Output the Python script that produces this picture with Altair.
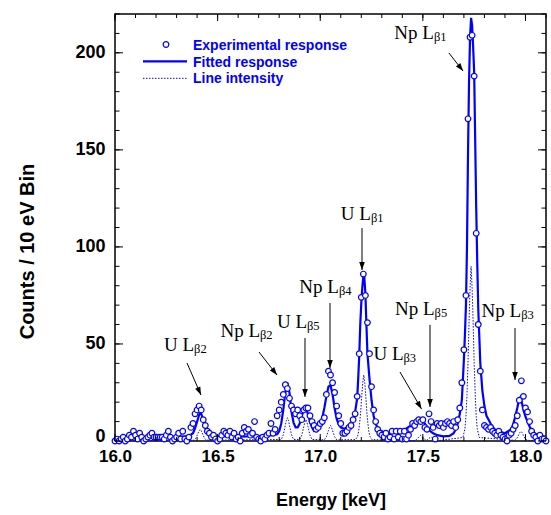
import altair as alt
import pandas as pd

# ---------------- data ----------------
# experimental counts, 10 eV bins from 16.00 to 18.10 keV
counts = [
    0, 1, 0, 1, 2, 0, 1, 3, 2, 5,          # 16.00
    3, 1, 4, 2, 0, 1, 2, 3, 4, 2,          # 16.10
    2, 2, 2, 2, 1, 3, 5, 2, 0, 1,          # 16.20
    2, 4, 1, 5, 1, 0, 2, 7, 9, 14,         # 16.30
    16, 18, 16, 11, 8, 5, 4, 2, 3, 1,      # 16.40
    0, 1, 3, 5, 4, 3, 5, 2, 4, 1,          # 16.50
    2, 0, 4, 7, 5, 6, 3, 4, 10, 2,         # 16.60
    1, 0, 2, 1, 3, 4, 9, 4, 6, 13,         # 16.70
    16, 20, 24, 29, 27, 22, 18, 16, 14, 16,  # 16.80
    13, 11, 16, 17, 17, 13, 10, 8, 6, 7,   # 16.90
    9, 10, 12, 24, 36, 34, 30, 25, 18, 13,  # 17.00
    9, 4, 4, 5, 7, 8, 11, 14, 23, 45,      # 17.10
    74, 86, 75, 61, 45, 28, 16, 10, 6, 4,  # 17.20
    3, 2, 4, 1, 2, 5, 1, 5, 2, 5,          # 17.30
    1, 5, 1, 3, 6, 9, 8, 10, 11, 10,       # 17.40
    11, 7, 6, 14, 10, 7, 1, 9, 8, 9,       # 17.50
    7, 9, 10, 9, 8, 10, 7, 11, 17, 30,     # 17.60
    47, 75, 166, 208, 209, 188, 107, 60, 36, 16,  # 17.70
    8, 7, 6, 7, 5, 4, 3, 5, 3, 2,          # 17.80
    1, 0, 3, 4, 6, 8, 13, 21, 31, 23,      # 17.90
    17, 15, 10, 5, 3, 2, 0, 3, 1, 1,       # 18.00
    0,                                     # 18.10
]
bin_energy = [round(16.0 + 0.01 * i, 2) for i in range(len(counts))]

# fitted response
fit_energy = [
    16.00, 16.10, 16.20, 16.30, 16.36, 16.38, 16.39, 16.40, 16.41, 16.415,
    16.42, 16.43, 16.44, 16.45, 16.46, 16.48, 16.60, 16.70, 16.76, 16.79,
    16.80, 16.81, 16.82, 16.83, 16.84, 16.85, 16.86, 16.87, 16.88, 16.89,
    16.90, 16.91, 16.92, 16.93, 16.94, 16.95, 16.96, 16.97, 16.98, 16.99,
    17.00, 17.01, 17.02, 17.03, 17.04, 17.05, 17.06, 17.07, 17.08, 17.09,
    17.10, 17.11, 17.12, 17.13, 17.14, 17.15, 17.16, 17.17, 17.18, 17.185,
    17.19, 17.195, 17.20, 17.205, 17.21, 17.213, 17.22, 17.225, 17.23, 17.24,
    17.25, 17.26, 17.27, 17.28, 17.30, 17.33, 17.38, 17.42, 17.45, 17.47,
    17.49, 17.50, 17.51, 17.52, 17.53, 17.55, 17.57, 17.60, 17.63, 17.65,
    17.66, 17.67, 17.68, 17.69, 17.70, 17.705, 17.71, 17.715, 17.72, 17.725,
    17.73, 17.735, 17.74, 17.745, 17.75, 17.755, 17.76, 17.765, 17.77, 17.78,
    17.79, 17.80, 17.81, 17.83, 17.85, 17.87, 17.90, 17.93, 17.94, 17.95,
    17.96, 17.97, 17.975, 17.98, 17.99, 18.00, 18.01, 18.02, 18.03, 18.04,
    18.06, 18.10,
]
fit_counts = [
    1.5, 1.8, 2.0, 2.2, 2.5, 4, 6.5, 10, 13.5, 14.8,
    14, 11, 7.5, 5, 3.2, 2.5, 2.2, 2.5, 3, 3.5,
    5, 9, 16, 25, 30, 25, 15, 9.5, 7, 7,
    9, 13, 16, 16.8, 14, 10, 7, 5.2, 5.5, 7,
    9, 12, 17, 23, 28, 28.8, 24, 17, 11.5, 8.5,
    7, 6.5, 6.4, 7, 8, 9.5, 11.5, 15, 22, 32,
    44, 60, 71, 79, 85, 87, 76, 60, 45, 32,
    21, 13, 9, 6.5, 5, 4, 4.5, 6.5, 8.5, 10,
    10.8, 10.5, 9, 7, 5.5, 4, 3, 2.4, 2.6, 4,
    6, 9, 14, 21, 42, 55, 70, 100, 148, 185,
    208, 218, 214, 203, 190, 155, 120, 92, 68, 40,
    26, 18, 13, 9, 6, 5, 4, 6, 8.5, 12.5,
    17, 22, 22.5, 21, 16, 12.5, 10, 7.5, 5.5, 4.3,
    3, 2.2,
]

# line intensity (dotted)
line_energy = [
    16.00,
    16.385, 16.395, 16.405, 16.41, 16.415, 16.42, 16.425, 16.435, 16.445,
    16.81, 16.82, 16.83, 16.835, 16.84, 16.845, 16.85, 16.86, 16.87,
    16.90, 16.91, 16.92, 16.925, 16.93, 16.935, 16.94, 16.95, 16.96,
    17.02, 17.03, 17.04, 17.045, 17.05, 17.055, 17.06, 17.07, 17.08,
    17.172, 17.182, 17.187, 17.192, 17.197, 17.202, 17.207, 17.212, 17.217,
    17.222, 17.227, 17.232, 17.237, 17.242, 17.252,
    17.46, 17.47, 17.48, 17.485, 17.49, 17.495, 17.50, 17.51,
    17.52, 17.53, 17.535, 17.54, 17.545, 17.55, 17.56, 17.57,
    17.695, 17.705, 17.71, 17.715, 17.72, 17.725, 17.73, 17.735, 17.74,
    17.745, 17.75, 17.755, 17.76, 17.765, 17.775,
    17.948, 17.958, 17.968, 17.973, 17.978, 17.983, 17.988, 17.998, 18.008,
    18.10,
]
line_counts = [
    0,
    0.4, 1.6, 4.1, 5.3, 6, 5.3, 4.1, 1.6, 0.4,
    0.8, 3.2, 8.2, 10.6, 12, 10.6, 8.2, 3.2, 0.8,
    0.8, 3, 7.5, 9.7, 11, 9.7, 7.5, 3, 0.8,
    0.6, 2.2, 5.4, 7, 8, 7, 5.4, 2.2, 0.6,
    0.7, 2.4, 4.8, 9.2, 15, 23, 30, 34, 30,
    23, 15, 9.2, 4.8, 2.4, 0.7,
    0.2, 0.8, 2, 2.6, 3, 2.6, 2, 0.8,
    0.4, 1.4, 1.8, 2, 1.8, 1.4, 0.55, 0.15,
    1.8, 6.3, 12.6, 24, 40, 61, 79, 90, 79,
    61, 40, 24, 12.6, 6.3, 1.8,
    0.35, 1.35, 3.4, 4.4, 5, 4.4, 3.4, 1.35, 0.35,
    0,
]

assert len(fit_energy) == len(fit_counts)
assert len(line_energy) == len(line_counts)

# axis ticks
x_major_ticks = [16.0, 16.5, 17.0, 17.5, 18.0]
x_minor_ticks = [round(16.0 + 0.1 * i, 1) for i in range(22)]
y_major_ticks = [0, 50, 100, 150, 200]
y_minor_ticks = list(range(0, 221, 10))

# annotations (label anchor, arrow start/end in data units)
ann_main = ["Np L", "U L", "Np L", "U L", "Np L", "U L", "U L", "Np L", "Np L"]
ann_sub = ["β1", "β1", "β4", "β5", "β2", "β2", "β3", "β5", "β3"]
ann_E = [17.554, 17.247, 17.091, 16.9355, 16.7065, 16.385, 17.4057, 17.557, 17.979]
ann_C = [206.9, 113.9, 76.25, 58.2, 53.6, 46.4, 41.7, 64.9, 63.9]
arrow_E1 = [17.627, 17.2035, 17.0476, 16.9257, 16.7016, 16.3508, 17.3886, 17.5348, 17.949]
arrow_C1 = [199.9, 109.7, 71.1, 53.1, 45.85, 40.2, 35.55, 59.8, 58.2]
arrow_E2 = [17.696, 17.2035, 17.0476, 16.9257, 16.7893, 16.419, 17.4934, 17.5348, 17.949]
arrow_C2 = [190.6, 88.1, 37.6, 22.7, 34.0, 23.7, 16.5, 17.5, 31.4]
arrow_angle = [322, 0, 0, 0, 322, 336, 330, 0, 0]

legend_labels = ["Experimental response", "Fitted response", "Line intensity"]

# ---------------- chart ----------------
BLUE = "#0000ff"
W, H = 431, 427
SANS = "Liberation Sans"
SERIF = "Liberation Serif"

xs = alt.Scale(domain=[16.0, 18.1], nice=False, zero=False)
ys = alt.Scale(domain=[0, 220], nice=False, zero=False)

x_axis = alt.Axis(
    values=x_major_ticks, format=".1f", title="Energy [keV]",
    domain=False, ticks=False, grid=False, labelFlush=False,
    labelPadding=7, labelFontSize=17, labelFont=SANS, labelFontWeight="bold",
    labelColor="black", titleFontSize=18, titleFont=SANS, titleFontWeight="bold",
    titleColor="black", titleX=215.5, titleY=64, titleBaseline="alphabetic",
    titleAlign="center",
)
y_axis = alt.Axis(
    values=y_major_ticks, title="Counts / 10 eV Bin",
    domain=False, ticks=False, grid=False,
    labelPadding=10, labelFontSize=18, labelFont=SANS, labelFontWeight="bold",
    labelColor="black",
    labelBaseline={"condition": {"test": "datum.value === 0", "value": "alphabetic"},
                   "value": "middle"},
    titleFontSize=20, titleFont=SANS, titleFontWeight="bold",
    titleColor="black", titleX=-82, titleY=237, titleBaseline="alphabetic",
    titleAlign="center", titleAngle=270,
)

def X(f="E"):
    return alt.X(f"{f}:Q", scale=xs, axis=x_axis)

def Y(f="C"):
    return alt.Y(f"{f}:Q", scale=ys, axis=y_axis)

df_pts = pd.DataFrame({"E": bin_energy, "C": counts})
df_fit = pd.DataFrame({"E": fit_energy, "C": fit_counts})
df_line = pd.DataFrame({"E": line_energy, "C": line_counts})

line_layer = alt.Chart(df_line).mark_line(
    color=BLUE, strokeWidth=1, strokeDash=[1.5, 1.5]
).encode(x=X(), y=Y())

fit_layer = alt.Chart(df_fit).mark_line(
    color=BLUE, strokeWidth=2.2
).encode(x=X(), y=Y())

pts_layer = alt.Chart(df_pts).mark_point(
    shape="circle", filled=True, fill="white", stroke=BLUE,
    strokeWidth=1.2, size=32, opacity=1, fillOpacity=1, strokeOpacity=1
).encode(x=X(), y=Y())

# inward ticks on all four sides
def xticks(vals, length):
    d = pd.DataFrame({"E": vals})
    bottom = alt.Chart(d).mark_rule(color="black", strokeWidth=1).encode(
        x=X(), y=alt.value(H), y2=alt.value(H - length))
    top = alt.Chart(d).mark_rule(color="black", strokeWidth=1).encode(
        x=X(), y=alt.value(0), y2=alt.value(length))
    return [bottom, top]

def yticks(vals, length):
    d = pd.DataFrame({"C": vals})
    left = alt.Chart(d).mark_rule(color="black", strokeWidth=1).encode(
        y=Y(), x=alt.value(0), x2=alt.value(length))
    right = alt.Chart(d).mark_rule(color="black", strokeWidth=1).encode(
        y=Y(), x=alt.value(W), x2=alt.value(W - length))
    return [left, right]

tick_layers = (xticks(x_minor_ticks, 4) + xticks(x_major_ticks, 7)
               + yticks(y_minor_ticks, 4.5) + yticks(y_major_ticks, 8))

df_ann = pd.DataFrame({"E": ann_E, "C": ann_C, "main": ann_main, "sub": ann_sub})
main_text = alt.Chart(df_ann).mark_text(
    align="right", baseline="alphabetic", font=SERIF, fontSize=19, color="black"
).encode(x=X(), y=Y(), text="main:N")
sub_text = alt.Chart(df_ann).mark_text(
    align="left", baseline="alphabetic", font=SERIF, fontSize=12.5, color="black", dy=2
).encode(x=X(), y=Y(), text="sub:N")

df_arr = pd.DataFrame({"E": arrow_E1, "C": arrow_C1, "E2": arrow_E2,
                       "C2": arrow_C2, "angle": arrow_angle})
arrow_rules = alt.Chart(df_arr).mark_rule(color="black", strokeWidth=1).encode(
    x=X(), y=Y(), x2="E2:Q", y2="C2:Q")
arrow_heads = alt.Chart(df_arr).mark_point(
    shape="M0,0L-0.35,-1L0.35,-1Z", filled=True, color="black", size=256,
    opacity=1, strokeWidth=0
).encode(x=X("E2"), y=Y("C2"), angle=alt.Angle("angle:Q", scale=None))

# legend (drawn inside the plot, top-left)
one = pd.DataFrame({"k": [0]})
leg_pt = alt.Chart(one).mark_point(
    shape="circle", filled=True, fill="white", stroke=BLUE, strokeWidth=1.2,
    size=32, opacity=1
).encode(x=alt.value(51), y=alt.value(30.5))
leg_fit = alt.Chart(one).mark_rule(color=BLUE, strokeWidth=2.2).encode(
    x=alt.value(28), x2=alt.value(72), y=alt.value(47.3))
leg_line = alt.Chart(one).mark_rule(color=BLUE, strokeWidth=1, strokeDash=[1.5, 1.5]).encode(
    x=alt.value(28), x2=alt.value(72), y=alt.value(64.3))
leg_texts = []
for lab, py in zip(legend_labels, [36, 52.7, 69.3]):
    leg_texts.append(
        alt.Chart(one).mark_text(
            align="left", baseline="alphabetic", font=SANS, fontSize=14,
            fontWeight="bold", color=BLUE, text=lab
        ).encode(x=alt.value(78), y=alt.value(py))
    )

chart = alt.layer(
    line_layer, fit_layer, pts_layer, *tick_layers,
    arrow_rules, arrow_heads, main_text, sub_text,
    leg_pt, leg_fit, leg_line, *leg_texts,
).properties(
    width=W, height=H,
    autosize=alt.AutoSizeParams(type="none"),
    padding={"left": 115, "top": 14, "right": 5, "bottom": 74},
    background="white",
).configure_view(stroke="black", strokeWidth=1.5)

chart.save("out.html", embed_options={"renderer": "svg", "actions": False})
